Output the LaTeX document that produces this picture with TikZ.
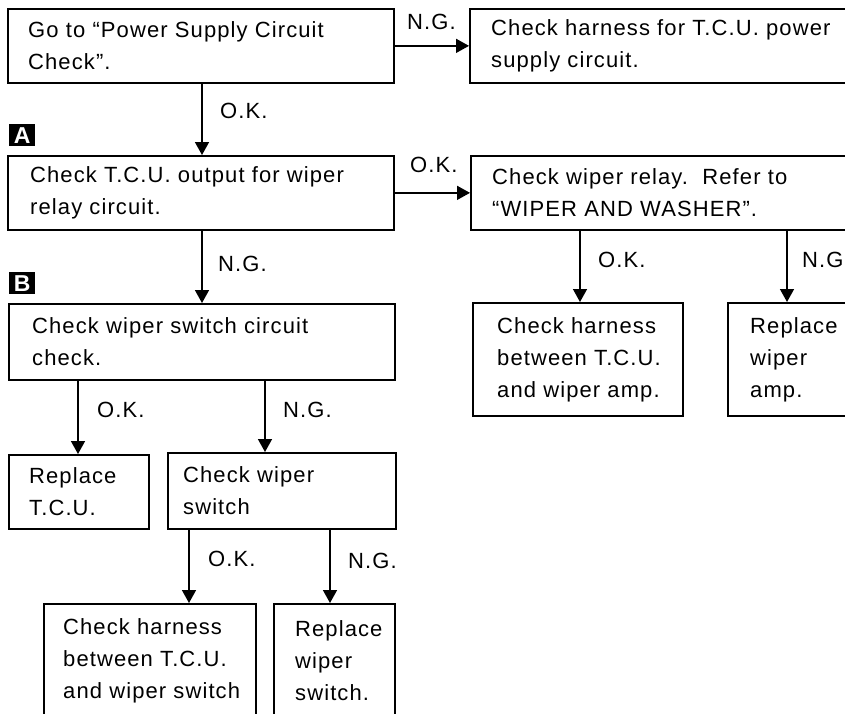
\documentclass[tikz,border=0pt]{standalone}
\usepackage{fontspec}
\setmainfont[LetterSpace=5]{Liberation Sans}
\usetikzlibrary{arrows.meta}
\begin{document}
\begin{tikzpicture}[x=1pt,y=-1pt,
  box/.style={draw, line width=1.7pt, rectangle, anchor=north west, inner sep=0pt},
  txt/.style={anchor=west, align=left, inner sep=0pt, font=\fontsize{22}{32}\selectfont},
  lbl/.style={anchor=base west, inner sep=0pt, font=\fontsize{22}{32}\selectfont},
  arr/.style={line width=1.5pt, -{Triangle[width=14pt,length=13pt]}},
  marker/.style={fill=black, text=white, minimum width=26pt, minimum height=22pt, inner sep=0pt, anchor=north west, font=\bfseries\fontsize{23}{23}\selectfont}]
\useasboundingbox (0,0) rectangle (845,713);
\fill[white] (0,0) rectangle (845,713);
\clip (0,0) rectangle (845,713);
% boxes
\node[box, minimum width=386pt, minimum height=74pt] (b1) at (7,8) {};
\node[box, minimum width=381pt, minimum height=74pt] (b2) at (469,8) {};
\node[box, minimum width=386pt, minimum height=74pt] (b3) at (7,155) {};
\node[box, minimum width=380pt, minimum height=74pt] (b4) at (470,155) {};
\node[box, minimum width=386pt, minimum height=76pt] (b5) at (8,303) {};
\node[box, minimum width=140pt, minimum height=74pt] (b6) at (8,454) {};
\node[box, minimum width=228pt, minimum height=76pt] (b7) at (167,452) {};
\node[box, minimum width=212pt, minimum height=113pt] (b8) at (43,603) {};
\node[box, minimum width=121pt, minimum height=113pt] (b9) at (273,603) {};
\node[box, minimum width=210pt, minimum height=113pt] (b10) at (472,302) {};
\node[box, minimum width=123pt, minimum height=113pt] (b11) at (727,302) {};
% texts
\node[txt] (t1) at ([xshift=21pt]b1.west) {Go to “Power Supply Circuit\\Check”.};
\node[txt] (t2) at ([xshift=22pt]b2.west) {Check harness for T.C.U. power\\supply circuit.};
\node[txt] (t3) at ([xshift=23pt]b3.west) {Check T.C.U. output for wiper\\relay circuit.};
\node[txt] (t4) at ([xshift=22pt]b4.west) {Check wiper relay.\ \ Refer to\\“WIPER AND WASHER”.};
\node[txt] (t5) at ([xshift=24pt]b5.west) {Check wiper switch circuit\\check.};
\node[txt] (t6) at ([xshift=21pt]b6.west) {Replace\\T.C.U.};
\node[txt] (t7) at ([xshift=16pt]b7.west) {Check wiper\\switch};
\node[txt] (t8) at ([xshift=20pt]b8.west) {Check harness\\between T.C.U.\\and wiper switch};
\node[txt] (t9) at ([xshift=22pt]b9.west) {Replace\\wiper\\switch.};
\node[txt] (t10) at ([xshift=25pt]b10.west) {Check harness\\between T.C.U.\\and wiper amp.};
\node[txt] (t11) at ([xshift=23pt]b11.west) {Replace\\wiper\\amp.};
% markers
\node[marker] (mA) at (9,124) {A};
\node[marker] (mB) at (9,272) {B};
% connector x positions
\coordinate (xa) at (202,0);
\coordinate (xb) at (78,0);
\coordinate (xc) at (265,0);
\coordinate (xd) at (189,0);
\coordinate (xe) at (330,0);
\coordinate (xf) at (580,0);
\coordinate (xg) at (787,0);
% connectors
\draw[arr] (b1.east) -- (b2.west);
\draw[arr] (b3.east) -- (b4.west);
\draw[arr] (b1.south -| xa) -- (b3.north -| xa);
\draw[arr] (b3.south -| xa) -- (b5.north -| xa);
\draw[arr] (b5.south -| xb) -- (b6.north -| xb);
\draw[arr] (b5.south -| xc) -- (b7.north -| xc);
\draw[arr] (b7.south -| xd) -- (b8.north -| xd);
\draw[arr] (b7.south -| xe) -- (b9.north -| xe);
\draw[arr] (b4.south -| xf) -- (b10.north -| xf);
\draw[arr] (b4.south -| xg) -- (b11.north -| xg);
% labels
\node[lbl] (l1) at (407,29) {N.G.};
\node[lbl] (l2) at (410,172) {O.K.};
\node[lbl] (l3) at (220,118) {O.K.};
\node[lbl] (l4) at (218,271) {N.G.};
\node[lbl] (l5) at (97,417) {O.K.};
\node[lbl] (l6) at (283,417) {N.G.};
\node[lbl] (l7) at (208,566) {O.K.};
\node[lbl] (l8) at (348,568) {N.G.};
\node[lbl] (l9) at (598,267) {O.K.};
\node[lbl] (l10) at (802,267) {N.G};
\end{tikzpicture}
\end{document}
